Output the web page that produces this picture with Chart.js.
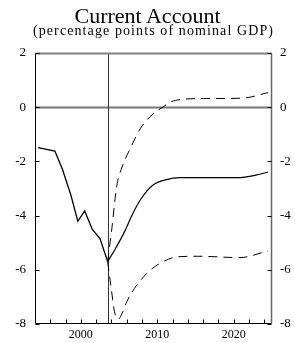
<!DOCTYPE html>
<html>
<head>
<meta charset="utf-8">
<script src="https://cdn.jsdelivr.net/npm/chart.js@4"></script>
<style>
  body { margin: 0; background: #fff; }
  #wrap { position: relative; width: 295px; height: 343px; }
  .ttl { position: absolute; left: 0; width: 295px; text-align: center; font-family: "Liberation Serif", serif; color: #000; white-space: nowrap; }
  #title { top: 5px; font-size: 22px; line-height: 22px; }
  #subtitle { top: 24px; font-size: 14px; line-height: 14px; letter-spacing: 1.1px; box-sizing: border-box; padding-left: 12px; }
  canvas { position: absolute; left: 0; top: 0; }
</style>
</head>
<body>
<div id="wrap">
  <canvas id="chart" width="295" height="343"></canvas>
  <div class="ttl" id="title">Current Account</div>
  <div class="ttl" id="subtitle">(percentage points of nominal GDP)</div>
</div>
<script>
// historical (solid)
const histYears = [1994.4, 1996.6, 1997.6, 1998.7, 1999.6, 2000.5, 2001.5, 2002.5, 2003.5];
const histValues = [-1.49, -1.62, -2.3, -3.25, -4.21, -3.83, -4.51, -4.85, -5.7];

// baseline projection (solid)
const projYears = [2003.5, 2004.4, 2005.7, 2006.8, 2007.9, 2009.4, 2011.2, 2012.9, 2016, 2020.5, 2023, 2024.5];
const projValues = [-5.7, -5.28, -4.6, -3.92, -3.37, -2.88, -2.67, -2.6, -2.6, -2.6, -2.5, -2.39];

// upper band (dashed)
const upperYears = [2003.5, 2004.0, 2004.7, 2005.4, 2006.5, 2007.8, 2009.3, 2010.8, 2011.8, 2013, 2016, 2021, 2024.5];
const upperValues = [-5.7, -4.6, -2.9, -2.2, -1.5, -0.78, -0.28, 0.02, 0.2, 0.28, 0.32, 0.33, 0.54];

// lower band (dashed)
const lowerYears = [2003.5, 2004.0, 2004.4, 2004.9, 2005.4, 2006.0, 2007.0, 2008.6, 2010.3, 2012.7, 2015.3, 2020.8, 2024.5];
const lowerValues = [-5.7, -6.75, -7.55, -7.82, -7.6, -7.18, -6.69, -6.14, -5.77, -5.52, -5.5, -5.55, -5.3];

const xTickYears = [1996, 1998, 2000, 2002, 2004, 2006, 2008, 2010, 2012, 2014, 2016, 2018, 2020, 2022, 2024];
const xLabelYears = [2000, 2010, 2020];
const yTicks = [-8, -6, -4, -2, 0, 2];
const markerYear = 2003.5;

function pts(xs, ys) {
    return xs.map((x, i) => ({ x: x, y: ys[i] }));
}

const serif = '"Liberation Serif", "Times New Roman", serif';

// frame, zero line, marker line and inward tick marks
const framePlugin = {
    id: 'frame',
    beforeDatasetsDraw(chart) {
        const { ctx, chartArea: a, scales } = chart;
        ctx.save();
        const y0 = Math.round(scales.y.getPixelForValue(0)) + 0.5;
        ctx.strokeStyle = '#777';
        ctx.lineWidth = 2;
        ctx.beginPath();
        ctx.moveTo(a.left, y0);
        ctx.lineTo(a.right, y0);
        ctx.stroke();

        const xm = Math.round(scales.x.getPixelForValue(markerYear)) + 0.5;
        ctx.strokeStyle = '#333';
        ctx.lineWidth = 1;
        ctx.beginPath();
        ctx.moveTo(xm, a.top);
        ctx.lineTo(xm, a.bottom);
        ctx.stroke();
        ctx.restore();
    },
    afterDatasetsDraw(chart) {
        const { ctx, chartArea: a, scales } = chart;
        ctx.save();
        const L = Math.round(a.left) + 0.5, R = Math.round(a.right) - 0.5;
        const T = Math.round(a.top) + 0.5, B = Math.round(a.bottom) - 0.5;

        ctx.lineWidth = 2;
        ctx.strokeStyle = '#808080';
        ctx.beginPath();
        ctx.moveTo(L, T);
        ctx.lineTo(R, T);
        ctx.stroke();

        ctx.lineWidth = 1.5;
        ctx.strokeStyle = '#666';
        ctx.beginPath();
        ctx.moveTo(R, T);
        ctx.lineTo(R, B);
        ctx.stroke();

        ctx.lineWidth = 1;
        ctx.strokeStyle = '#000';
        ctx.beginPath();
        ctx.moveTo(L, T);
        ctx.lineTo(L, B);
        ctx.lineTo(R, B);
        ctx.stroke();

        ctx.beginPath();
        xTickYears.forEach(v => {
            const px = Math.round(scales.x.getPixelForValue(v)) + 0.5;
            ctx.moveTo(px, B);
            ctx.lineTo(px, B - 4);
        });
        yTicks.forEach(v => {
            const py = Math.round(scales.y.getPixelForValue(v)) + 0.5;
            ctx.moveTo(L, py);
            ctx.lineTo(L + 4, py);
            ctx.moveTo(R, py);
            ctx.lineTo(R - 4, py);
        });
        ctx.stroke();
        ctx.restore();
    }
};

const yScale = (pos, width, pad) => ({
    type: 'linear',
    position: pos,
    min: -8,
    max: 2,
    afterBuildTicks: s => { s.ticks = yTicks.map(v => ({ value: v })); },
    afterFit: s => { s.width = width; },
    grid: { display: false, drawTicks: false },
    border: { display: false },
    ticks: {
        padding: pad,
        color: '#000',
        font: { family: serif, size: 13 }
    }
});

new Chart(document.getElementById('chart'), {
    type: 'line',
    data: {
        datasets: [
            { data: pts(histYears, histValues), borderColor: '#000', borderWidth: 1.3, pointRadius: 0, tension: 0 },
            { data: pts(projYears, projValues), borderColor: '#000', borderWidth: 1.2, pointRadius: 0, cubicInterpolationMode: 'monotone' },
            { data: pts(upperYears, upperValues), borderColor: '#000', borderWidth: 1, borderDash: [9, 6], pointRadius: 0, cubicInterpolationMode: 'monotone' },
            { data: pts(lowerYears, lowerValues), borderColor: '#000', borderWidth: 1, borderDash: [9, 6], pointRadius: 0, cubicInterpolationMode: 'monotone' }
        ]
    },
    options: {
        responsive: false,
        animation: false,
        events: [],
        layout: { padding: { top: 53, left: 0, right: 0, bottom: 0 } },
        plugins: { legend: { display: false }, tooltip: { enabled: false } },
        scales: {
            x: {
                type: 'linear',
                min: 1994,
                max: 2025,
                afterBuildTicks: s => { s.ticks = xTickYears.map(v => ({ value: v })); },
                afterFit: s => { s.height = 19; },
                grid: { display: false, drawTicks: false },
                border: { display: false },
                ticks: {
                    autoSkip: false,
                    maxRotation: 0,
                    padding: 4,
                    color: '#000',
                    font: { family: serif, size: 12 },
                    callback: v => xLabelYears.includes(v) ? String(v) : ''
                }
            },
            y: yScale('left', 35, 9),
            y2: yScale('right', 23, 8)
        }
    },
    plugins: [framePlugin]
});
</script>
</body>
</html>
